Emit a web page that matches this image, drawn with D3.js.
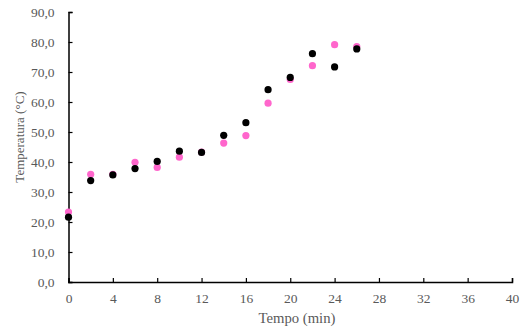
<!DOCTYPE html>
<html><head><meta charset="utf-8">
<script src="https://cdn.jsdelivr.net/npm/d3@7"></script>
<style>body{margin:0;background:#fff}svg{display:block}</style>
</head><body>
<script>
const times = [0,2,4,6,8,10,12,14,16,18,20,22,24,26];
const seriesBlack = [21.6,33.8,35.7,37.8,40.2,43.6,43.2,48.9,53.1,64.1,68.2,76.1,71.7,77.7];
const seriesPink  = [23.3,35.9,35.9,39.9,38.2,41.6,43.3,46.3,48.8,59.6,67.5,72.1,79.1,78.5];
const xTicks = [0,4,8,12,16,20,24,28,32,36,40];
const yTicks = [0,10,20,30,40,50,60,70,80,90];
const xTitle = "Tempo (min)";
const yTitle = "Temperatura (°C)";

const W=520,H=331;
const svg=d3.select("body").append("svg").attr("width",W).attr("height",H);
const x=d3.scaleLinear().domain([0,40]).range([68.5,512]);
const y=d3.scaleLinear().domain([0,90]).range([282,12]);
const font="'Liberation Serif','Times New Roman',serif";

const gx=svg.append("g").attr("transform","translate(0,282)")
  .call(d3.axisBottom(x).tickValues(xTicks).tickSize(-4).tickPadding(11).tickFormat(d3.format("d")));
const gy=svg.append("g").attr("transform","translate(68.5,0)")
  .call(d3.axisLeft(y).tickValues(yTicks).tickSize(-4).tickPadding(14).tickFormat(d=>d.toFixed(1).replace(".",",")));
[gx,gy].forEach(g=>{
  g.select(".domain").attr("stroke","#000").attr("stroke-width",1.5);
  g.selectAll(".tick line").attr("stroke","#000").attr("stroke-width",1.2);
  g.selectAll("text").attr("fill","#595959").style("font-family",font).style("font-size","13.5px");
});

svg.append("text").attr("x",297).attr("y",323).attr("text-anchor","middle")
  .attr("fill","#595959").style("font-family",font).style("font-size","14.7px").text(xTitle);
svg.append("text").attr("transform","translate(24,137) rotate(-90)").attr("text-anchor","middle")
  .attr("fill","#595959").style("font-family",font).style("font-size","13px").text(yTitle);

svg.append("g").selectAll("circle").data(times).join("circle")
  .attr("cx",(d)=>x(d)).attr("cy",(d,i)=>y(seriesPink[i])).attr("r",3.6).attr("fill","#ff66cc");
svg.append("g").selectAll("circle").data(times).join("circle")
  .attr("cx",(d)=>x(d)).attr("cy",(d,i)=>y(seriesBlack[i])).attr("r",3.6).attr("fill","#000");
</script>
</body></html>
